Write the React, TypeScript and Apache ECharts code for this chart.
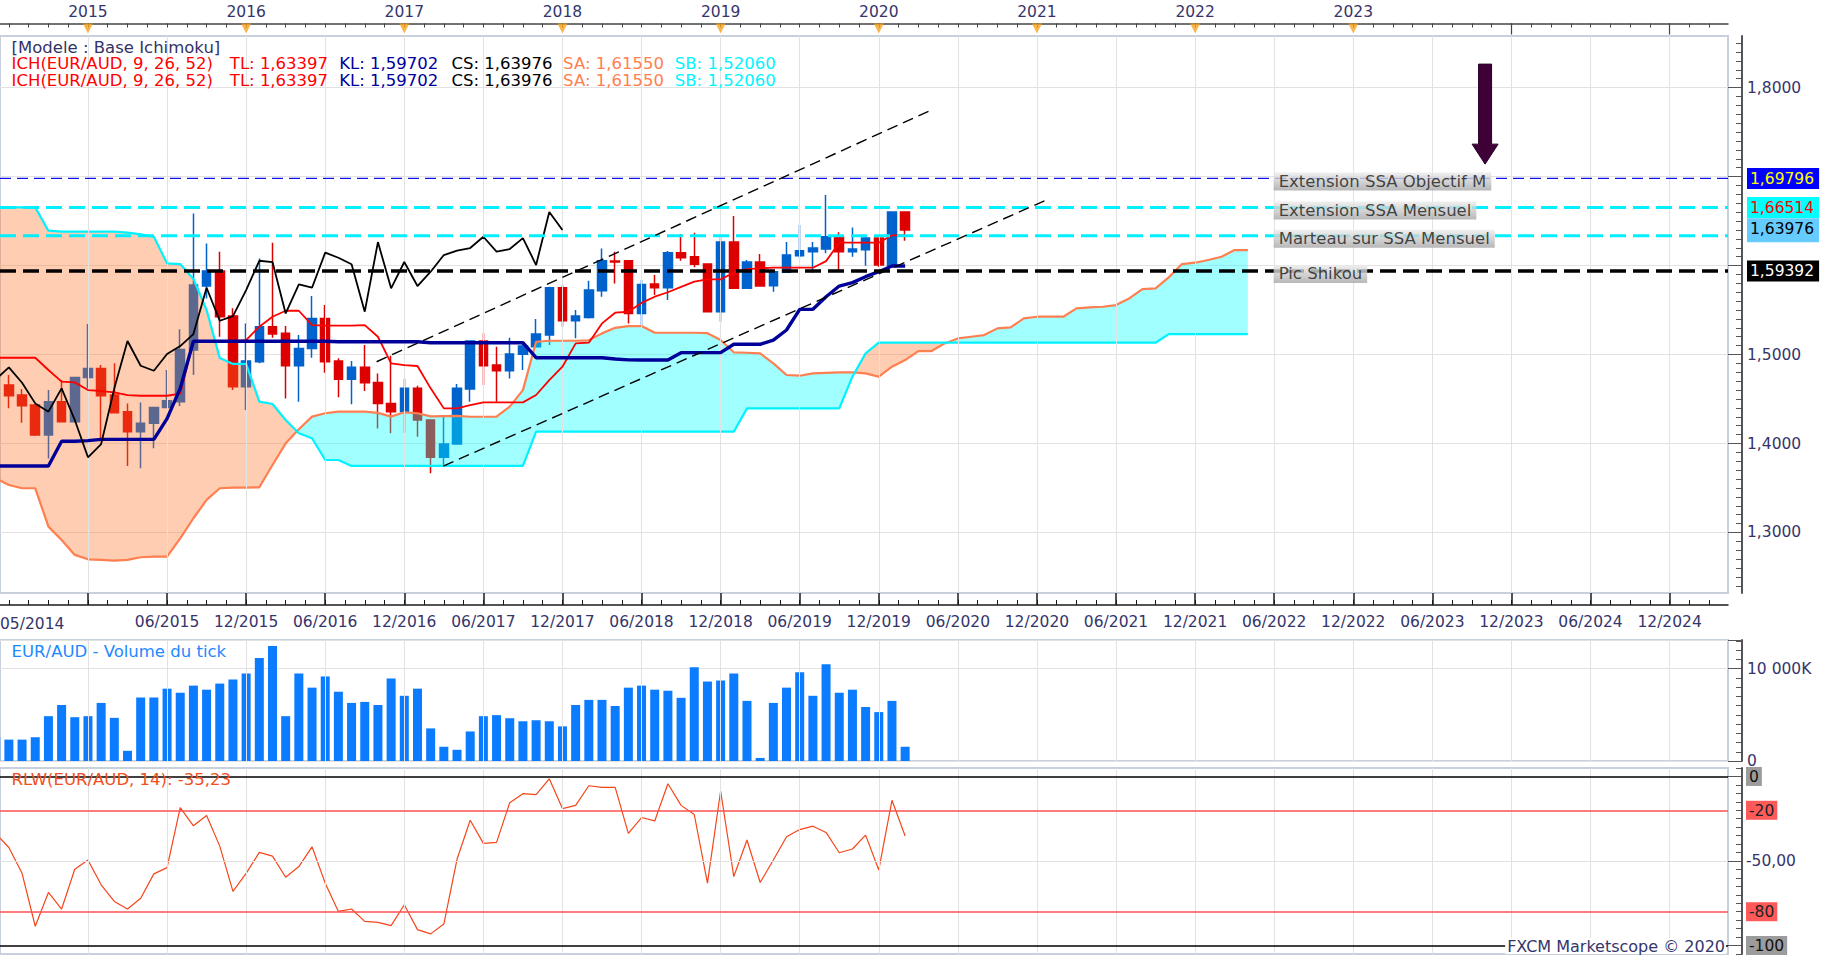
import React, { useEffect, useRef } from "react";
import * as echarts from "echarts";

// ---- DATA (month index 0 = 05/2014, one step per month) ----
const FIRST_CANDLE_INDEX = 1;

const OPEN = [1.4657, 1.4545, 1.4433, 1.4095, 1.447, 1.4245, 1.4743, 1.4844, 1.4545, 1.4358,
  1.4133, 1.4227, 1.4406, 1.447, 1.505, 1.5769, 1.5938, 1.5432, 1.4638, 1.4919,
  1.5313, 1.5238, 1.4874, 1.5069, 1.5406, 1.4927, 1.4721, 1.4856, 1.4687, 1.4451,
  1.4358, 1.462, 1.4264, 1.3845, 1.3994, 1.4612, 1.5152, 1.4882, 1.4818, 1.5002,
  1.5088, 1.5219, 1.5751, 1.538, 1.5417, 1.5717, 1.605, 1.6054, 1.5462, 1.5793,
  1.5751, 1.6145, 1.61, 1.6017, 1.5482, 1.6264, 1.5744, 1.604, 1.5774, 1.5924,
  1.6111, 1.6156, 1.6186, 1.6321, 1.6156, 1.6178, 1.6309, 1.5999, 1.6602];
const CLOSE = [1.4537, 1.4425, 1.4095, 1.447, 1.4245, 1.4743, 1.4844, 1.4537, 1.4346, 1.4133,
  1.4227, 1.4406, 1.4481, 1.5058, 1.5781, 1.5938, 1.5425, 1.4638, 1.4927, 1.5313,
  1.523, 1.4874, 1.5069, 1.5406, 1.4919, 1.4721, 1.4856, 1.4683, 1.4451, 1.4358,
  1.462, 1.4264, 1.3845, 1.3994, 1.462, 1.5152, 1.4874, 1.4818, 1.5006, 1.5095,
  1.523, 1.5751, 1.538, 1.5432, 1.5725, 1.6054, 1.6039, 1.5462, 1.5788, 1.5751,
  1.6145, 1.6088, 1.6014, 1.5482, 1.6264, 1.5744, 1.604, 1.577, 1.5931, 1.6118,
  1.6167, 1.6197, 1.6324, 1.6156, 1.6186, 1.6309, 1.6006, 1.6602, 1.6399];
const LOW = [1.4395, 1.4234, 1.4084, 1.3833, 1.424, 1.424, 1.462, 1.4058, 1.434, 1.3747,
  1.3721, 1.3946, 1.4395, 1.4421, 1.477, 1.5631, 1.52, 1.4601, 1.4376, 1.4901,
  1.5189, 1.4507, 1.447, 1.4964, 1.4796, 1.4519, 1.444, 1.459, 1.417, 1.4114,
  1.4122, 1.4077, 1.3665, 1.3747, 1.399, 1.447, 1.4657, 1.447, 1.4732, 1.4826,
  1.5085, 1.5107, 1.5313, 1.5182, 1.5406, 1.565, 1.5799, 1.535, 1.5331, 1.5669,
  1.5613, 1.6055, 1.598, 1.5475, 1.5369, 1.574, 1.574, 1.5763, 1.5706, 1.592,
  1.6092, 1.592, 1.6137, 1.5931, 1.61, 1.5999, 1.5987, 1.5995, 1.6279];
const HIGH = [1.477, 1.4612, 1.444, 1.4601, 1.4713, 1.475, 1.5343, 1.4882, 1.4901, 1.4451,
  1.4462, 1.441, 1.4826, 1.5283, 1.6586, 1.6249, 1.6155, 1.5519, 1.535, 1.608,
  1.6256, 1.532, 1.5219, 1.5657, 1.5556, 1.4957, 1.4927, 1.5107, 1.4788, 1.4987,
  1.4728, 1.465, 1.427, 1.4309, 1.4668, 1.5155, 1.5238, 1.5088, 1.5189, 1.5144,
  1.5399, 1.5762, 1.5781, 1.55, 1.5829, 1.6193, 1.6155, 1.6058, 1.5837, 1.5894,
  1.6163, 1.6354, 1.6369, 1.602, 1.6317, 1.6557, 1.6062, 1.613, 1.5935, 1.6264,
  1.6455, 1.6264, 1.6793, 1.6373, 1.6429, 1.6324, 1.6312, 1.6605, 1.6605];

// tick volume in K, from index 0
const VOLUME = [2574, 2316, 2316, 2574, 4853, 6066, 4743, 4853, 6287, 4669,
  1103, 6875, 6875, 7831, 7390, 8162, 7721, 8382, 8824, 9485,
  11140, 12463, 4853, 9485, 7941, 9154, 7500, 6287, 6397, 6066,
  8934, 7059, 7831, 3529, 1544, 1213, 3199, 4853, 4963, 4632,
  4301, 4412, 4301, 3750, 6066, 6618, 6618, 5956, 7941, 8162,
  7721, 7610, 6838, 10147, 8603, 8713, 9485, 6507, 331, 6287,
  7941, 9596, 7059, 10478, 7390, 7721, 5846, 5294, 6507, 1544];

const TENKAN = [1.4964, 1.4964, 1.4964, 1.4964, 1.4826, 1.4695, 1.4687, 1.4601, 1.459, 1.4575,
  1.4545, 1.4537, 1.4537, 1.4537, 1.456, 1.5152, 1.5152, 1.5152, 1.5152, 1.5163,
  1.5313, 1.5425, 1.5492, 1.5492, 1.5331, 1.5324, 1.5324, 1.5324, 1.5331, 1.52,
  1.4901, 1.4882, 1.4871, 1.462, 1.4395, 1.4395, 1.4432, 1.4462, 1.4462, 1.4462,
  1.4462, 1.4545, 1.4713, 1.4863, 1.5125, 1.5133, 1.535, 1.547, 1.5481, 1.558,
  1.565, 1.57, 1.576, 1.582, 1.5845, 1.5845, 1.592, 1.596, 1.5969, 1.5976,
  1.5976, 1.5976, 1.5976, 1.605, 1.6257, 1.6257, 1.6257, 1.6257, 1.634, 1.634];

const KIJUN = [1.3747, 1.3747, 1.3747, 1.3747, 1.3747, 1.4025, 1.4025, 1.4032, 1.4047, 1.4047,
  1.4047, 1.4047, 1.4047, 1.428, 1.462, 1.515, 1.515, 1.515, 1.515, 1.515,
  1.515, 1.515, 1.515, 1.515, 1.515, 1.515, 1.5144, 1.5144, 1.5144, 1.5144,
  1.5144, 1.5144, 1.5144, 1.5133, 1.5133, 1.5133, 1.5133, 1.5133, 1.5133, 1.5133,
  1.5133, 1.4964, 1.4964, 1.4964, 1.4964, 1.4964, 1.4964, 1.495, 1.494, 1.4939,
  1.4939, 1.4939, 1.5021, 1.5021, 1.5021, 1.5021, 1.5115, 1.5115, 1.5115, 1.5163,
  1.5276, 1.5508, 1.5508, 1.565, 1.577, 1.5808, 1.5875, 1.5931, 1.5995, 1.5995];

const SSA = [1.361, 1.3534, 1.3497, 1.3497, 1.3066, 1.2916, 1.2748, 1.2699, 1.2692, 1.2684,
  1.2692, 1.2722, 1.2729, 1.2729, 1.2935, 1.316, 1.3366, 1.3497, 1.3504, 1.3504,
  1.3508, 1.3759, 1.4002, 1.416, 1.4302, 1.434, 1.4358, 1.4358, 1.4358, 1.4345,
  1.4302, 1.4351, 1.434, 1.4305, 1.4308, 1.431, 1.4301, 1.4301, 1.4301, 1.4414,
  1.46, 1.5144, 1.5155, 1.5155, 1.5155, 1.516, 1.5238, 1.53, 1.532, 1.532,
  1.5245, 1.5245, 1.5245, 1.5245, 1.524, 1.5163, 1.5025, 1.502, 1.5013, 1.4901,
  1.477, 1.4762, 1.4788, 1.4795, 1.48, 1.48, 1.4788, 1.4751, 1.4863, 1.4938,
  1.5039, 1.5039, 1.5125, 1.5181, 1.52, 1.5219, 1.5294, 1.5305, 1.5406, 1.5425,
  1.5425, 1.5425, 1.5519, 1.553, 1.5537, 1.5556, 1.5631, 1.5736, 1.5743, 1.5867,
  1.6017, 1.6032, 1.6062, 1.6099, 1.6174, 1.6174];

const SSB = [1.6654, 1.6654, 1.6654, 1.6654, 1.6392, 1.6381, 1.6381, 1.6381, 1.6381, 1.6381,
  1.637, 1.635, 1.6324, 1.6025, 1.6017, 1.585, 1.55, 1.496, 1.4894, 1.4894,
  1.4471, 1.4444, 1.4265, 1.4115, 1.4059, 1.3815, 1.3815, 1.3748, 1.3748, 1.3748,
  1.3748, 1.3748, 1.3748, 1.3748, 1.3748, 1.3748, 1.3748, 1.3748, 1.3748, 1.3748,
  1.3748, 1.4133, 1.4133, 1.4133, 1.4133, 1.4133, 1.4133, 1.4133, 1.4133, 1.4133,
  1.4133, 1.4133, 1.4133, 1.4133, 1.4133, 1.4133, 1.4133, 1.4395, 1.4395, 1.4395,
  1.4395, 1.4395, 1.4395, 1.4395, 1.4395, 1.4751, 1.5013, 1.5133, 1.5133, 1.5133,
  1.5133, 1.5133, 1.5133, 1.5133, 1.5133, 1.5133, 1.5133, 1.5133, 1.5133, 1.5133,
  1.5133, 1.5133, 1.5133, 1.5133, 1.5133, 1.5133, 1.5133, 1.5133, 1.5133, 1.523,
  1.523, 1.523, 1.523, 1.523, 1.523, 1.523];

const CHIKOU_SHIFT = 26;

const RLW = [-33.7, -42.0, -57.3, -88.6, -68.6, -78.4, -54.9, -49.4, -64.1, -73.9,
  -78.4, -72.0, -57.6, -53.9, -18.4, -29.2, -23.1, -41.2, -68.0, -57.3,
  -44.9, -47.1, -59.6, -53.3, -41.6, -63.1, -79.8, -78.4, -85.7, -86.3,
  -88.2, -75.9, -90.6, -93.1, -87.3, -49.0, -25.9, -39.6, -39.0, -15.5,
  -10.2, -10.8, -1.4, -19.0, -17.1, -5.5, -6.5, -6.5, -33.7, -24.3,
  -26.3, -4.3, -17.1, -22.5, -63.1, -8.6, -59.2, -37.6, -62.7, -49.4,
  -35.7, -31.4, -29.4, -33.1, -45.1, -42.9, -34.7, -55.3, -14.1, -35.2];

const YEAR_LABELS = ["2015", "2016", "2017", "2018", "2019", "2020", "2021", "2022", "2023"];
const YEAR_AT = [7, 19, 31, 43, 55, 67, 79, 91, 103];
const BOTTOM_LABELS = ["06/2015", "12/2015", "06/2016", "12/2016", "06/2017", "12/2017", "06/2018",
  "12/2018", "06/2019", "12/2019", "06/2020", "12/2020", "06/2021", "12/2021", "06/2022",
  "12/2022", "06/2023", "12/2023", "06/2024", "12/2024"];
const BOTTOM_AT = [13, 19, 25, 31, 37, 43, 49, 55, 61, 67, 73, 79, 85, 91, 97, 103, 109, 115, 121, 127];
const GRID_AT = [7, 13, 19, 25, 31, 37, 43, 49, 55, 61, 67, 73, 79, 85, 91, 97, 103, 109, 115, 121, 127];
const FIRST_LEFT_LABEL = "05/2014";

const PRICE_LABELS = [1.3, 1.4, 1.5, 1.8];
const TAG_VALUES = [1.69796, 1.66514, 1.63976, 1.59392];
const LEVEL_NAMES = ["Extension SSA Objectif M", "Extension SSA Mensuel", "Marteau sur SSA Mensuel", "Pic Shikou"];
const LEVEL_VALUES = [1.69796, 1.66514, 1.6335, 1.59392];
const LEVEL_LABEL_X = 96.96;
const TREND_UPPER = [[28.9, 1.4919], [70.9, 1.7742]];
const TREND_LOWER = [[33.96, 1.3747], [79.7, 1.6736]];
const ARROW = [113.0, 1.8264, 1.714];

const LEGEND_TITLE = "[Modele : Base Ichimoku]";
const LEGEND_PARTS = ["ICH(EUR/AUD, 9, 26, 52)", "TL: 1,63397", "KL: 1,59702", "CS: 1,63976", "SA: 1,61550", "SB: 1,52060"];
const VOLUME_TITLE = "EUR/AUD - Volume du tick";
const RLW_TITLE = "RLW(EUR/AUD, 14): -35,23";
const COPYRIGHT = "FXCM Marketscope \u00a9 2020";

// ---- layout / style ----
const FONT = '"DejaVu Sans", Verdana, sans-serif';
const NAVY = "#35356b";
const X_MIN = 0.326;
const X_MAX = 131.43;
const GRID_LINE = "#e2e2e2";
const FRAME = "#c7d0dc";
const LEVEL_STYLES = [
  { color: "#1010f0", width: 1.4, type: [11, 6] },
  { color: "#00f0ff", width: 3, type: [16, 7] },
  { color: "#00f0ff", width: 3, type: [16, 7] },
  { color: "#000000", width: 3.4, type: [16, 7] },
];

function comma(v: number, d: number) {
  return v.toFixed(d).replace(".", ",");
}

export default function App() {
  const ref = useRef<HTMLDivElement>(null);

  useEffect(() => {
    document.body.style.margin = "0";
    const chart = echarts.init(ref.current as HTMLDivElement, undefined, { renderer: "svg" });

    const minorAt: number[] = [];
    for (let v = 1; v <= 130.01; v += 1.5) minorAt.push(v);
    const priceMinor: number[] = [];
    for (let k = 124; k <= 185; k++) priceMinor.push(k / 100);

    const candleData = OPEN.map((o, i) => [FIRST_CANDLE_INDEX + i, o, CLOSE[i], LOW[i], HIGH[i]]);
    const idxSeries = (arr: number[]) => arr.map((v, i) => [i, v]);
    const chikou = CLOSE.map((c, i) => [FIRST_CANDLE_INDEX + i - CHIKOU_SHIFT, c]).filter((p) => p[0] >= 0);

    const cloudRender = (params: any, api: any) => {
      const runs: any[] = [];
      let cur: any = null;
      for (let i = 0; i < SSA.length; i++) {
        const d = SSA[i] - SSB[i];
        const s = d >= 0 ? 1 : -1;
        if (!cur) {
          cur = { s, a: [[i, SSA[i]]], b: [[i, SSB[i]]] };
          continue;
        }
        if (s === cur.s) {
          cur.a.push([i, SSA[i]]);
          cur.b.push([i, SSB[i]]);
        } else {
          const dp = SSA[i - 1] - SSB[i - 1];
          const t = dp / (dp - d);
          const xc = i - 1 + t;
          const yc = SSA[i - 1] + t * (SSA[i] - SSA[i - 1]);
          cur.a.push([xc, yc]);
          cur.b.push([xc, yc]);
          runs.push(cur);
          cur = { s, a: [[xc, yc], [i, SSA[i]]], b: [[xc, yc], [i, SSB[i]]] };
        }
      }
      if (cur) runs.push(cur);
      return {
        type: "group",
        children: runs.map((r) => ({
          type: "polygon",
          silent: true,
          shape: { points: r.a.concat(r.b.slice().reverse()).map((p: number[]) => api.coord(p)) },
          style: { fill: r.s > 0 ? "rgba(0,255,255,0.37)" : "rgba(255,117,40,0.36)", stroke: "none" },
        })),
      };
    };

    const arrowRender = (params: any, api: any) => {
      const top = api.coord([api.value(0), api.value(1)]);
      const tip = api.coord([api.value(0), api.value(2)]);
      const cx = top[0];
      const headY = tip[1] - 20;
      const sw = 6.5;
      const hw = 13;
      return {
        type: "polygon",
        shape: {
          points: [[cx - sw, top[1]], [cx + sw, top[1]], [cx + sw, headY], [cx + hw, headY], [cx, tip[1]], [cx - hw, headY], [cx - sw, headY]],
        },
        style: { fill: "#3f0038", stroke: "#28002a", lineWidth: 1 },
      };
    };

    const near = (v: number, t: number) => Math.abs(v - t) < 1e-7;
    const tagStyles = ["t0", "t1", "t2", "t3"];
    const tagPad = [3, 5, 2, 3];

    const hiddenX = (gridIndex: number) => ({ type: "value", gridIndex, min: X_MIN, max: X_MAX, show: false });
    const vGrid = (xi: number, yi: number, y: number) => ({
      type: "line",
      xAxisIndex: xi,
      yAxisIndex: yi,
      data: [[X_MIN + 0.5, y]],
      symbol: "none",
      lineStyle: { width: 0 },
      silent: true,
      z: 1,
      markLine: {
        silent: true,
        symbol: ["none", "none"],
        label: { show: false },
        lineStyle: { color: GRID_LINE, width: 1, type: "solid" },
        data: GRID_AT.map((v) => ({ xAxis: v })),
      },
    });

    const levelSeries = LEVEL_VALUES.map((v, i) => ({
      type: "line",
      xAxisIndex: 0,
      yAxisIndex: 0,
      z: 6,
      symbol: "none",
      silent: true,
      data: [[X_MIN, v], [X_MAX, v]],
      lineStyle: LEVEL_STYLES[i],
    }));
    const trendSeries = [TREND_UPPER, TREND_LOWER].map((pts) => ({
      type: "line",
      xAxisIndex: 0,
      yAxisIndex: 0,
      z: 6,
      symbol: "none",
      silent: true,
      data: pts,
      lineStyle: { color: "#000", width: 1.4, type: [11, 6] },
    }));

    const option: any = {
      animation: false,
      backgroundColor: "#ffffff",
      textStyle: { fontFamily: FONT },
      grid: [
        { left: 0, top: 36, width: 1728, height: 557, show: true, borderColor: FRAME, borderWidth: 2, backgroundColor: "#fff" },
        { left: 0, top: 640, width: 1728, height: 121, show: true, borderColor: FRAME, borderWidth: 2, backgroundColor: "#fff" },
        { left: 0, top: 768, width: 1728, height: 186, show: true, borderColor: FRAME, borderWidth: 2, backgroundColor: "#fff" },
      ],
      xAxis: [
        hiddenX(0),
        {
          type: "value", gridIndex: 0, min: X_MIN, max: X_MAX, position: "bottom", offset: 12,
          axisLine: { show: true, onZero: false, lineStyle: { color: "#1a1a1a", width: 1.5 } },
          axisTick: { show: true, inside: true, length: 5, customValues: minorAt, lineStyle: { color: "#1a1a1a", width: 1 } },
          axisLabel: { show: false }, splitLine: { show: false },
        },
        {
          type: "value", gridIndex: 0, min: X_MIN, max: X_MAX, position: "bottom", offset: 12,
          axisLine: { show: false, onZero: false },
          axisTick: { show: true, inside: true, length: 12, customValues: GRID_AT, lineStyle: { color: "#1a1a1a", width: 1.5 } },
          axisLabel: {
            show: true, customValues: BOTTOM_AT, margin: 9, color: NAVY, fontSize: 15.5, fontFamily: FONT,
            formatter: (v: number) => BOTTOM_LABELS[BOTTOM_AT.indexOf(Math.round(v))] || "",
          },
          splitLine: { show: false },
        },
        {
          type: "value", gridIndex: 0, min: X_MIN, max: X_MAX, position: "top", offset: 12.5,
          axisLine: { show: true, onZero: false, lineStyle: { color: "#444", width: 1.5 } },
          axisTick: { show: true, inside: true, length: 4, customValues: minorAt, lineStyle: { color: "#444", width: 1 } },
          axisLabel: {
            show: true, customValues: YEAR_AT, margin: 4, color: NAVY, fontSize: 15.5, fontFamily: FONT,
            formatter: (v: number) => YEAR_LABELS[YEAR_AT.indexOf(Math.round(v))] || "",
          },
          splitLine: { show: false },
        },
        {
          type: "value", gridIndex: 0, min: X_MIN, max: X_MAX, position: "top", offset: 12.5,
          axisLine: { show: false, onZero: false },
          axisTick: { show: true, inside: true, length: 11, customValues: [115, 127], lineStyle: { color: "#444", width: 1.2 } },
          axisLabel: { show: false }, splitLine: { show: false },
        },
        hiddenX(1),
        hiddenX(2),
      ],
      yAxis: [
        {
          type: "value", gridIndex: 0, min: 1.232, max: 1.858, position: "right", offset: 14,
          axisLine: { show: true, onZero: false, lineStyle: { color: "#555", width: 2 } },
          axisTick: { show: true, inside: true, length: 14, customValues: [1.3, 1.4, 1.5, 1.6, 1.7, 1.8], lineStyle: { color: "#555" } },
          axisLabel: {
            show: true, customValues: PRICE_LABELS.concat(TAG_VALUES), margin: 5, color: NAVY, fontSize: 15.5, fontFamily: FONT,
            formatter: (v: number) => {
              for (let k = 0; k < TAG_VALUES.length; k++) {
                if (near(v, TAG_VALUES[k])) return "{" + tagStyles[k] + "|" + comma(v, 5) + "}";
              }
              return comma(v, 4);
            },
            rich: {
              t0: { backgroundColor: "#0000ff", color: "#ffff00", padding: tagPad, fontSize: 15.5 },
              t1: { backgroundColor: "#00ffff", color: "#ff0000", padding: tagPad, fontSize: 15.5 },
              t2: { backgroundColor: "#66ccff", color: "#000000", padding: [3, 5, 5, 3], fontSize: 15.5 },
              t3: { backgroundColor: "#000000", color: "#ffffff", padding: tagPad, fontSize: 15.5 },
            },
          },
          splitLine: { show: true, lineStyle: { color: GRID_LINE, width: 1 } },
        },
        {
          type: "value", gridIndex: 0, min: 1.232, max: 1.858, position: "right", offset: 14,
          axisLine: { show: false, onZero: false },
          axisTick: { show: true, inside: true, length: 6, customValues: priceMinor, lineStyle: { color: "#555" } },
          axisLabel: { show: false }, splitLine: { show: false },
        },
        {
          type: "value", gridIndex: 1, min: 0, max: 13100, interval: 1000, position: "right", offset: 14,
          axisLine: { show: true, onZero: false, lineStyle: { color: "#555", width: 2 } },
          axisTick: { show: true, inside: true, length: 6, lineStyle: { color: "#555" } },
          axisLabel: {
            show: true, margin: 5, color: NAVY, fontSize: 15.5, fontFamily: FONT,
            formatter: (v: number) => (v === 10000 ? "10 000K" : v === 0 ? "0" : ""),
          },
          splitLine: { show: false },
        },
        {
          type: "value", gridIndex: 1, min: 0, max: 13100, interval: 10000, position: "right", offset: 14,
          axisLine: { show: false, onZero: false },
          axisTick: { show: true, inside: true, length: 14, lineStyle: { color: "#555" } },
          axisLabel: { show: false },
          splitLine: { show: true, lineStyle: { color: GRID_LINE, width: 1 } },
        },
        {
          type: "value", gridIndex: 2, min: -105, max: 5, interval: 5, position: "right", offset: 14,
          axisLine: { show: true, onZero: false, lineStyle: { color: "#555", width: 2 } },
          axisTick: { show: true, inside: true, length: 6, lineStyle: { color: "#555" } },
          axisLabel: {
            show: true, margin: 4, color: NAVY, fontSize: 15.5, fontFamily: FONT,
            formatter: (v: number) => {
              if (v === 0) return "{g|0}";
              if (v === -20) return "{r|-20}";
              if (v === -50) return "-50,00";
              if (v === -80) return "{r|-80}";
              if (v === -100) return "{g|-100}";
              return "";
            },
            rich: {
              g: { backgroundColor: "#9c9c9c", color: "#111", padding: [2, 3, 1, 3], fontSize: 15.5 },
              r: { backgroundColor: "#ff5a5a", color: "#222", padding: [2, 3, 1, 3], fontSize: 15.5 },
            },
          },
          splitLine: { show: false },
        },
        {
          type: "value", gridIndex: 2, min: -105, max: 5, position: "right", offset: 14,
          axisLine: { show: false, onZero: false },
          axisTick: { show: true, inside: true, length: 14, customValues: [0, -50, -100], lineStyle: { color: "#555" } },
          axisLabel: { show: false }, splitLine: { show: false },
        },
      ],
      series: [
        vGrid(0, 0, 1.5),
        {
          type: "candlestick",
          xAxisIndex: 0,
          yAxisIndex: 0,
          barWidth: 9,
          z: 2,
          data: candleData,
          itemStyle: { color: "#0062cc", color0: "#dd0000", borderColor: "#0062cc", borderColor0: "#dd0000", borderWidth: 1.5 },
        },
        {
          type: "custom",
          xAxisIndex: 0,
          yAxisIndex: 0,
          z: 3,
          clip: true,
          silent: true,
          data: [[1, 1.5]],
          encode: { x: 0, y: 1 },
          renderItem: cloudRender,
        },
        {
          type: "line", name: "SA", xAxisIndex: 0, yAxisIndex: 0, z: 4, symbol: "none",
          data: idxSeries(SSA), lineStyle: { color: "#ff7f50", width: 2.2 },
        },
        {
          type: "line", name: "SB", xAxisIndex: 0, yAxisIndex: 0, z: 4, symbol: "none",
          data: idxSeries(SSB), lineStyle: { color: "#00f2ff", width: 2.2 },
        },
        {
          type: "line", name: "TL", xAxisIndex: 0, yAxisIndex: 0, z: 5, symbol: "none",
          data: idxSeries(TENKAN), lineStyle: { color: "#ff0000", width: 1.8 },
        },
        {
          type: "line", name: "KL", xAxisIndex: 0, yAxisIndex: 0, z: 5, symbol: "none",
          data: idxSeries(KIJUN), lineStyle: { color: "#000099", width: 3.4 },
        },
        {
          type: "line", name: "CS", xAxisIndex: 0, yAxisIndex: 0, z: 5, symbol: "none",
          data: chikou, lineStyle: { color: "#000000", width: 1.8 },
        },
        ...levelSeries,
        ...trendSeries,
        {
          type: "scatter",
          xAxisIndex: 0,
          yAxisIndex: 0,
          z: 30,
          symbolSize: 0,
          clip: false,
          silent: true,
          data: LEVEL_NAMES.map((n, i) => ({ name: n, value: [LEVEL_LABEL_X, LEVEL_VALUES[i]] })),
          label: {
            show: true,
            position: "right",
            distance: 0,
            offset: [0, 3],
            formatter: "{b}",
            color: "#1a1a1a",
            fontSize: 16.5,
            fontFamily: FONT,
            padding: [1, 5, 0, 5],
            backgroundColor: new echarts.graphic.LinearGradient(0, 0, 0, 1, [
              { offset: 0, color: "#ececec" },
              { offset: 1, color: "#a6a6a6" },
            ]),
          },
        },
        {
          type: "custom",
          xAxisIndex: 0,
          yAxisIndex: 0,
          z: 7,
          clip: false,
          silent: true,
          data: [ARROW],
          encode: { x: 0, y: [1, 2] },
          renderItem: arrowRender,
        },
        {
          type: "scatter",
          xAxisIndex: 0,
          yAxisIndex: 0,
          z: 10,
          clip: false,
          silent: true,
          symbol: "triangle",
          symbolRotate: 180,
          symbolSize: [10, 10],
          symbolOffset: [0, -7.5],
          itemStyle: { color: "#f7a21b" },
          data: YEAR_AT.map((v) => [v, 1.858]),
        },
        vGrid(5, 2, 100),
        {
          type: "bar",
          xAxisIndex: 5,
          yAxisIndex: 2,
          z: 2,
          barWidth: 9,
          data: idxSeries(VOLUME),
          itemStyle: { color: "#0b7bff" },
        },
        vGrid(6, 4, -50),
        {
          type: "line",
          xAxisIndex: 6,
          yAxisIndex: 4,
          z: 2,
          data: [[X_MIN + 0.5, -50]],
          symbol: "none",
          lineStyle: { width: 0 },
          silent: true,
          markLine: {
            silent: true,
            symbol: ["none", "none"],
            label: { show: false },
            data: [
              { yAxis: 0, lineStyle: { color: "#000", width: 1.5, type: "solid" } },
              { yAxis: -20, lineStyle: { color: "#ff5050", width: 1.5, type: "solid" } },
              { yAxis: -50, lineStyle: { color: GRID_LINE, width: 1, type: "solid" } },
              { yAxis: -80, lineStyle: { color: "#ff5050", width: 1.5, type: "solid" } },
              { yAxis: -100, lineStyle: { color: "#000", width: 1.5, type: "solid" } },
            ],
          },
        },
        {
          type: "line",
          xAxisIndex: 6,
          yAxisIndex: 4,
          z: 3,
          symbol: "none",
          data: idxSeries(RLW),
          lineStyle: { color: "#f5461a", width: 1.2 },
        },
      ],
      graphic: [
        { type: "text", z: 100, x: 11.6, y: 47.5, style: { text: LEGEND_TITLE, fill: "#333366", font: '16.5px "DejaVu Sans"', verticalAlign: "middle" } },
        ...[63.5, 80].flatMap((yy) => [
          { type: "text", z: 100, x: 11.6, y: yy, style: { text: LEGEND_PARTS[0], fill: "#ff0000", font: '16.5px "DejaVu Sans"', verticalAlign: "middle" } },
          { type: "text", z: 100, x: 229.8, y: yy, style: { text: LEGEND_PARTS[1], fill: "#ff0000", font: '16.5px "DejaVu Sans"', verticalAlign: "middle" } },
          { type: "text", z: 100, x: 339.2, y: yy, style: { text: LEGEND_PARTS[2], fill: "#00009c", font: '16.5px "DejaVu Sans"', verticalAlign: "middle" } },
          { type: "text", z: 100, x: 451.4, y: yy, style: { text: LEGEND_PARTS[3], fill: "#000000", font: '16.5px "DejaVu Sans"', verticalAlign: "middle" } },
          { type: "text", z: 100, x: 563.1, y: yy, style: { text: LEGEND_PARTS[4], fill: "#ff7f50", font: '16.5px "DejaVu Sans"', verticalAlign: "middle" } },
          { type: "text", z: 100, x: 674.8, y: yy, style: { text: LEGEND_PARTS[5], fill: "#00f5ff", font: '16.5px "DejaVu Sans"', verticalAlign: "middle" } },
        ]),
        { type: "text", z: 100, x: 0, y: 623.5, style: { text: FIRST_LEFT_LABEL, fill: NAVY, font: '15.5px "DejaVu Sans"', verticalAlign: "middle" } },
        { type: "text", z: 100, x: 11.6, y: 651.5, style: { text: VOLUME_TITLE, fill: "#1e88ff", font: '16.5px "DejaVu Sans"', verticalAlign: "middle" } },
        { type: "text", z: 100, x: 11.6, y: 779, style: { text: RLW_TITLE, fill: "#f0501e", font: '16.5px "DejaVu Sans"', verticalAlign: "middle" } },
        {
          type: "text", z: 100, x: 1726, y: 946,
          style: { text: COPYRIGHT, fill: NAVY, font: '16px "DejaVu Sans"', align: "right", verticalAlign: "middle", backgroundColor: "#fff", padding: [0, 1, 0, 2] },
        },
      ],
    };

    chart.setOption(option);
    return () => chart.dispose();
  }, []);

  return <div ref={ref} style={{ width: 1824, height: 956 }} />;
}
